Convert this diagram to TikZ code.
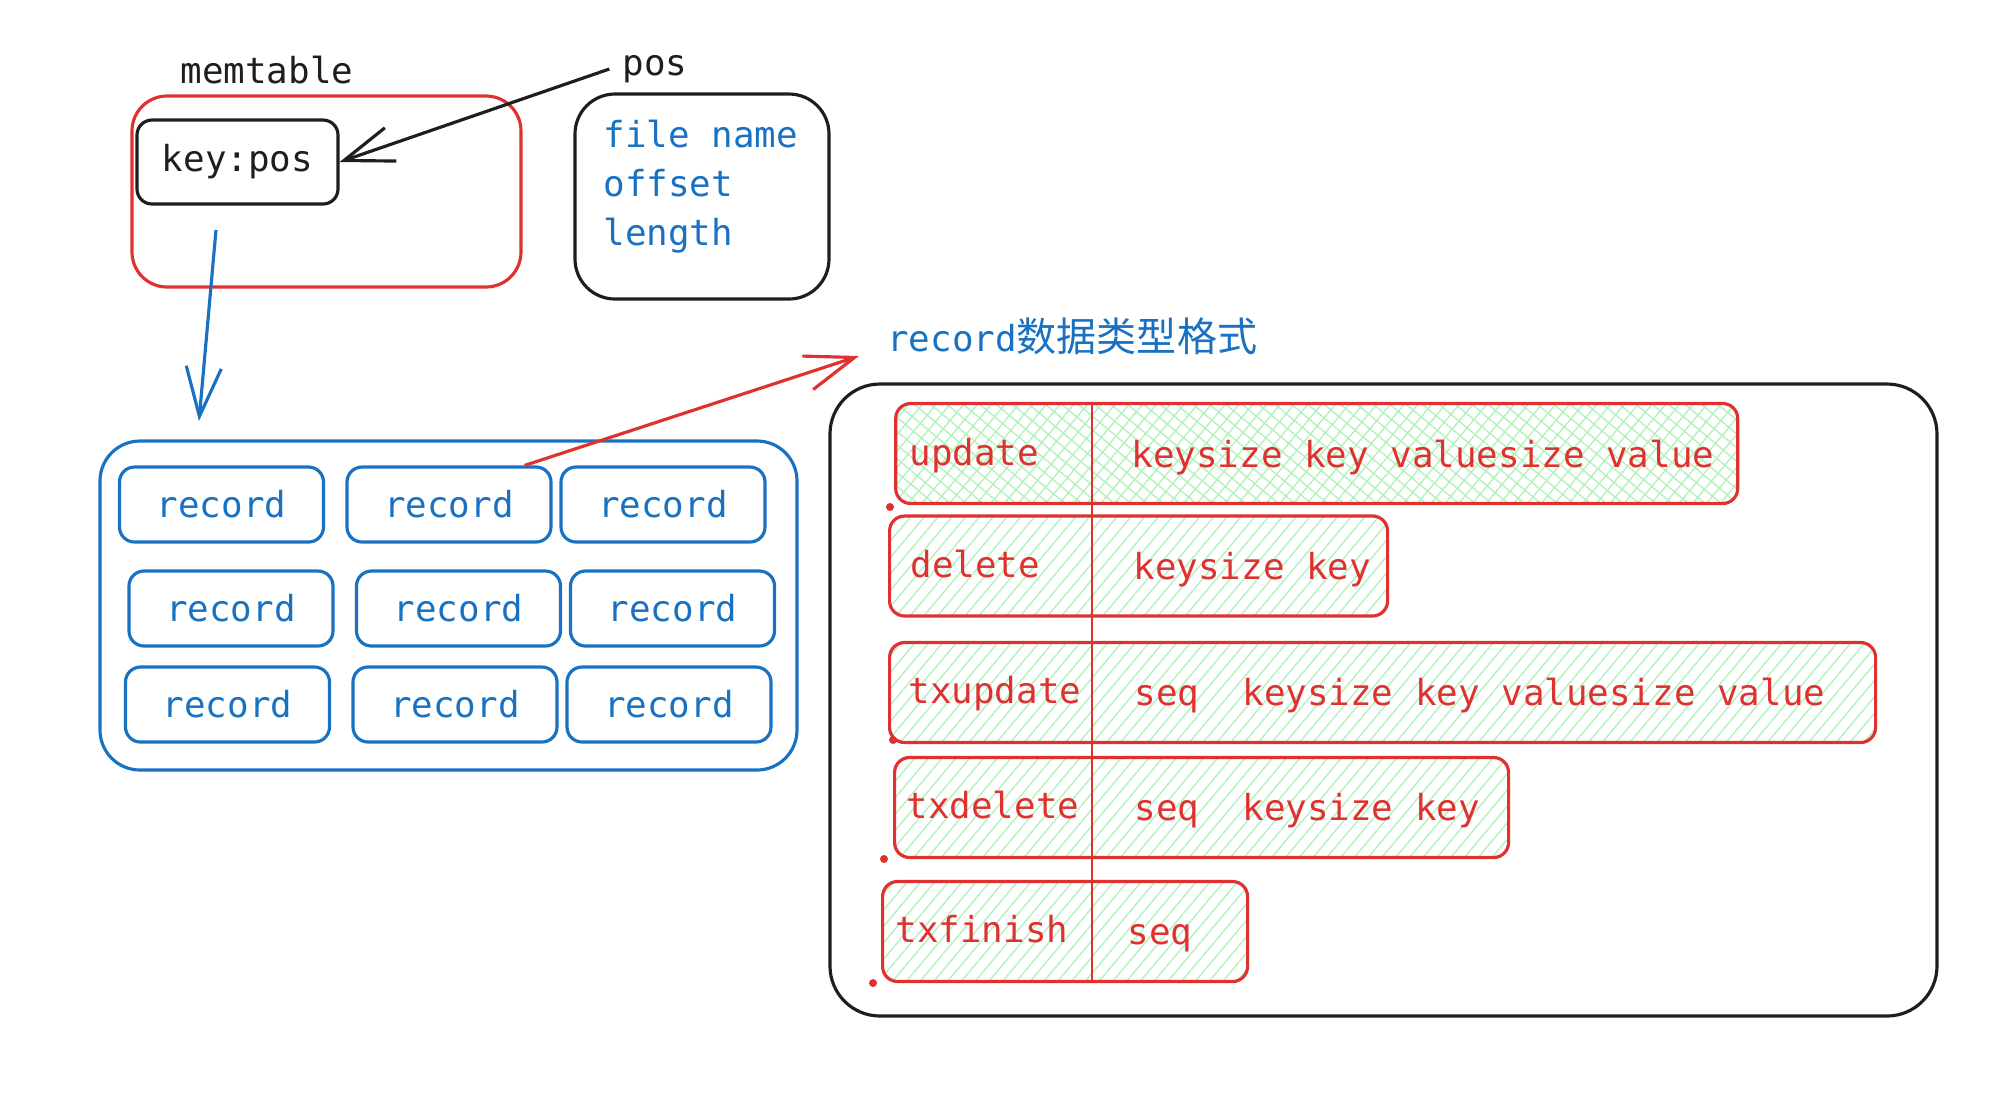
\documentclass[tikz,border=0pt]{standalone}
\usepackage{fontspec}
\setmainfont{DejaVu Sans Mono}
\newfontfamily\cjkfont{Noto Sans CJK SC}
\usetikzlibrary{arrows.meta,patterns.meta}
\definecolor{exblue}{HTML}{1971C2}
\definecolor{exred}{HTML}{E03131}
\definecolor{exblack}{HTML}{1E1E1E}
\definecolor{exgreen}{HTML}{B2F2BB}

\begin{document}
\begin{tikzpicture}[
    font=\fontsize{10.2}{13.7}\selectfont,
    line width=0.9pt,
    barb/.style={-{Straight Barb[length=14pt,width=10pt]}},
    recbox/.style={draw=exblue, text=exblue, rounded corners=0.15cm,
        minimum width=2.04cm, minimum height=0.75cm},
    opbox/.style={draw=exred, rounded corners=0.15cm, anchor=west,
        minimum height=1.0cm, pattern color=exgreen,
        pattern={Lines[angle=50,distance=3pt,line width=0.4pt]}},
    crossbox/.style={opbox, pattern={Hatch[angle=50,distance=3pt,line width=0.4pt]}},
    optext/.style={text=exred, anchor=west, inner sep=0pt,
        text height=0.75em, text depth=0.22em}
]
    \useasboundingbox (0,0) rectangle (20.14,-11.10);

    % memtable and pos
    \node[text=exblack] (memlbl) at (2.67,-0.70) {memtable};
    \node[draw=exred, rounded corners=0.35cm, minimum width=3.89cm, minimum height=1.91cm] (memtbl) at (3.265,-1.915) {};
    \node[draw=exblack, text=exblack, rounded corners=0.15cm, minimum width=2.01cm, minimum height=0.84cm] (kp) at (2.375,-1.62) {key:pos};

    \node[text=exblack] (poslbl) at (6.55,-0.69) {pos};
    \node[draw=exblack, rounded corners=0.4cm, minimum width=2.54cm, minimum height=2.05cm] (posbox) at (7.02,-1.965) {};
    \node[text=exblue, anchor=base west, inner sep=0pt] (fname) at (6.02,-1.47) {file name};
    \node[text=exblue, anchor=base west, inner sep=0pt] (foffset) at (6.02,-1.96) {offset};
    \node[text=exblue, anchor=base west, inner sep=0pt] (flength) at (6.02,-2.45) {length};

    \draw[exblack, barb] (poslbl.west) -- (kp.east);

    % records
    \node[draw=exblue, rounded corners=0.4cm, minimum width=6.97cm, minimum height=3.29cm] (recs) at (4.485,-6.055) {};
    \foreach \n/\x/\y in {11/2.215/5.045, 12/4.49/5.045, 13/6.63/5.045,
                          21/2.31/6.085, 22/4.585/6.085, 23/6.725/6.085,
                          31/2.275/7.045, 32/4.55/7.045, 33/6.69/7.045}
        \node[recbox] (r\n) at (\x,-\y) {record};

    \coordinate (memout) at (2.16,-2.30);
    \coordinate (recin) at (1.99,-4.21);
    \draw[exblue, barb] (memout) -- (recin);

    % record format
    \node[text=exblue, anchor=west] (fmt) at (8.74,-3.36) {record{\cjkfont\fontsize{11.4}{13.7}\selectfont 数据类型格式}};
    \draw[exred, barb] ([xshift=-0.28cm]r12.north east) -- ([shift={(-0.15,-0.20)}]fmt.west);

    \node[draw=exblack, rounded corners=0.5cm, minimum width=11.07cm, minimum height=6.32cm] (fmtbox) at (13.835,-7.00) {};

    \node[crossbox, minimum width=8.42cm] (upd) at (8.95,-4.535) {};
    \node[opbox, minimum width=4.98cm] (del) at (8.88,-5.66) {};
    \node[opbox, minimum width=9.86cm] (txu) at (8.88,-6.925) {};
    \node[opbox, minimum width=6.14cm] (txd) at (8.93,-8.075) {};
    \node[opbox, minimum width=3.65cm] (txf) at (8.81,-9.315) {};

    \coordinate (divtop) at (10.92,-4.03);
    \coordinate (divbot) at (10.92,-9.82);
    \draw[exred, line width=0.6pt] (divtop) -- (divbot);

    \node[optext] (updname) at (9.08,-4.56) {update};
    \node[optext] (delname) at (9.09,-5.68) {delete};
    \node[optext] (txuname) at (9.07,-6.94) {txupdate};
    \node[optext] (txdname) at (9.05,-8.09) {txdelete};
    \node[optext] (txfname) at (8.94,-9.33) {txfinish};

    \node[optext] (updfld) at (11.30,-4.58) {keysize key valuesize value};
    \node[optext] (delfld) at (11.32,-5.70) {keysize key};
    \node[optext] (txufld) at (11.33,-6.96) {seq\ \ keysize key valuesize value};
    \node[optext] (txdfld) at (11.33,-8.11) {seq\ \ keysize key};
    \node[optext] (txffld) at (11.26,-9.35) {seq};

    \fill[exred] (8.90,-5.07) circle (0.04);
    \fill[exred] (8.93,-7.40) circle (0.04);
    \fill[exred] (8.84,-8.59) circle (0.04);
    \fill[exred] (8.73,-9.83) circle (0.04);
\end{tikzpicture}
\end{document}
